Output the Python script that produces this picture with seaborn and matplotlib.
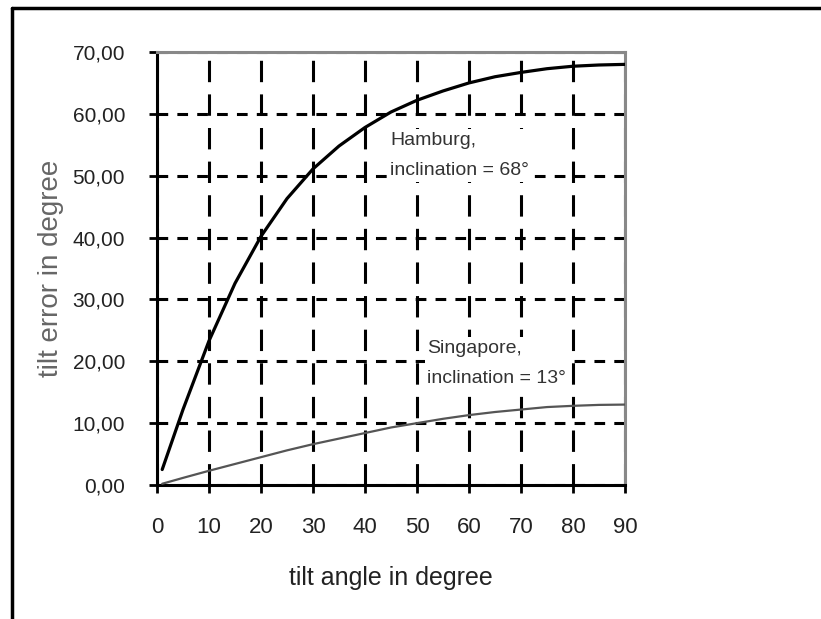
import numpy as np
import pandas as pd
import seaborn as sns
import matplotlib
matplotlib.use('Agg')
import matplotlib.pyplot as plt
from matplotlib.lines import Line2D
from matplotlib.ticker import FuncFormatter

# tilt angle (degree)
tilt = [1, 5, 10, 15, 20, 25, 30, 35, 40, 45, 50, 55, 60, 65, 70, 75, 80, 85, 90]
# tilt error, Hamburg (inclination 68 deg)
hamburg = [2.5, 12.2, 23.3, 32.6, 40.2, 46.3, 51.1, 54.8, 57.8, 60.3, 62.2,
           63.7, 65.0, 66.0, 66.7, 67.3, 67.7, 67.9, 68.0]
# tilt error, Singapore (inclination 13 deg)
singapore = [0.2, 1.15, 2.3, 3.4, 4.5, 5.6, 6.6, 7.5, 8.4, 9.3, 10.0,
             10.7, 11.3, 11.8, 12.2, 12.6, 12.8, 12.95, 13.0]

df = pd.DataFrame({'tilt': tilt, 'hamburg': hamburg, 'singapore': singapore})

sns.set_style('white')
plt.rcParams['font.family'] = ['Liberation Sans', 'DejaVu Sans']

fig = plt.figure(figsize=(8.21, 6.19), dpi=100)
ax = fig.add_axes([157/821, 1-485/619, (625-157)/821, (485-52)/619])

sns.lineplot(data=df, x='tilt', y='singapore', ax=ax, color='#555555', lw=1.6, zorder=4)
sns.lineplot(data=df, x='tilt', y='hamburg', ax=ax, color='black', lw=2.3, zorder=5)

ax.set_xlim(0, 90)
ax.set_ylim(0, 70)
ax.set_xticks(range(0, 91, 10))
ax.set_yticks(range(0, 71, 10))
ax.yaxis.set_major_formatter(FuncFormatter(lambda v, p: ('%.2f' % v).replace('.', ',')))

ax.yaxis.grid(True, color='black', lw=2.2, linestyle=(0, (3.5, 3)))
ax.xaxis.grid(True, color='black', lw=2.2, linestyle=(0, (7, 4)))
ax.set_axisbelow(True)

for s in ['left', 'bottom']:
    ax.spines[s].set_color('black')
    ax.spines[s].set_linewidth(2.2)
for s in ['top', 'right']:
    ax.spines[s].set_color('#888888')
    ax.spines[s].set_linewidth(2.2)

ax.tick_params(axis='both', direction='out', length=6, width=2, color='black',
               left=True, bottom=True)
ax.tick_params(axis='x', labelsize=16, pad=17)
ax.tick_params(axis='y', labelsize=15, pad=17)
for lab in ax.get_xticklabels() + ax.get_yticklabels():
    lab.set_color('#222222')

ax.set_xlabel('tilt angle in degree', fontsize=18, color='#222222', labelpad=20)
ax.set_ylabel('tilt error in degree', fontsize=20, color='#666666', labelpad=6)

box = dict(facecolor='white', edgecolor='none', pad=2)
ax.text(44.8, 53.3, 'Hamburg,\ninclination = 68°', fontsize=14, color='#333333',
        va='center', linespacing=2.0, bbox=box)
ax.text(52.0, 19.7, 'Singapore,\ninclination = 13°', fontsize=14, color='#333333',
        va='center', linespacing=2.0, bbox=box)

# outer frame (top and left)
fig.add_artist(Line2D([12/821, 12/821], [0, 1-8/619], color='black', lw=2.5))
fig.add_artist(Line2D([12/821, 1], [1-8/619, 1-8/619], color='black', lw=2.5))

fig.savefig('out.png', dpi=100)
